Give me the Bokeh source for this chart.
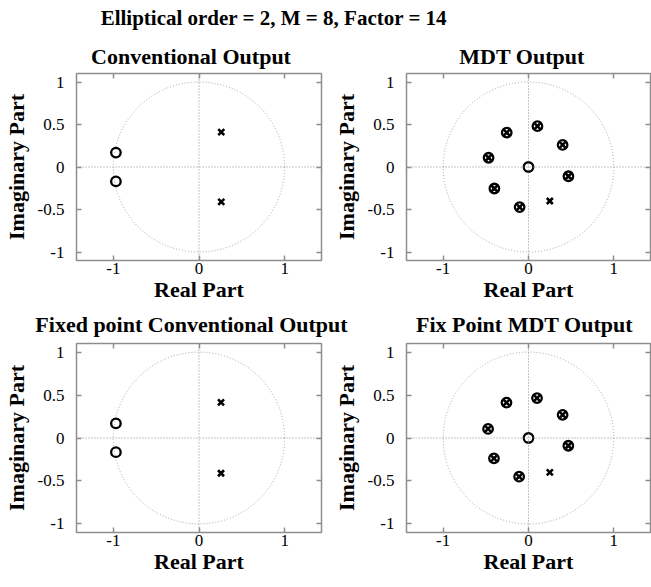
from bokeh.plotting import figure
from bokeh.models import Range1d, Span, FixedTicker, LinearAxis, Label
from bokeh.layouts import column, row
from bokeh.embed import file_html
from bokeh.resources import INLINE

# ---- pole / zero locations (real, imaginary) ----
conv_zero_re = [-0.97, -0.97]
conv_zero_im = [0.17, -0.17]
conv_pole_re = [0.26, 0.26]
conv_pole_im = [0.41, -0.41]

mdt_zero_re = [0.0, 0.105, 0.40, 0.468, -0.104, -0.40, -0.468, -0.255]
mdt_zero_im = [0.0, 0.48, 0.26, -0.109, -0.472, -0.253, 0.109, 0.405]
mdt_pole_re = [0.25, 0.105, 0.40, 0.468, -0.104, -0.40, -0.468, -0.255]
mdt_pole_im = [-0.40, 0.48, 0.26, -0.109, -0.472, -0.253, 0.109, 0.405]

fix_conv_zero_re = [-0.97, -0.97]
fix_conv_zero_im = [0.17, -0.165]
fix_conv_pole_re = [0.257, 0.257]
fix_conv_pole_im = [0.415, -0.41]

fix_mdt_zero_re = [0.0, 0.10, 0.40, 0.467, -0.11, -0.405, -0.474, -0.258]
fix_mdt_zero_im = [0.0, 0.465, 0.27, -0.09, -0.45, -0.237, 0.106, 0.412]
fix_mdt_pole_re = [0.25, 0.10, 0.40, 0.467, -0.11, -0.405, -0.474, -0.258]
fix_mdt_pole_im = [-0.40, 0.465, 0.27, -0.09, -0.45, -0.237, 0.106, 0.412]

x_ticks = [-1, 0, 1]
y_ticks = [-1, -0.5, 0, 0.5, 1]
tick_text = {-1: "-1", -0.5: "-0.5", 0: "0", 0.5: "0.5", 1: "1"}

main_title = "Elliptical order = 2, M = 8, Factor = 14"
panel_titles = ["Conventional Output", "MDT Output",
                "Fixed point Conventional Output", "Fix Point MDT Output"]

SERIF = "Liberation Serif"
BOX = "#8e8e8e"
AXIS_REF = "#8a8a8a"
CIRCLE_REF = "#a6a6a6"


def header(width, height, items):
    p = figure(width=width, height=height, x_range=Range1d(0, width),
               y_range=Range1d(height, 0), output_backend="svg",
               toolbar_location=None, min_border=0, outline_line_color=None,
               x_axis_location=None, y_axis_location=None)
    p.grid.visible = False
    for text, cx, base, size in items:
        p.add_layout(Label(x=cx, y=base, text=text, text_align="center",
                           text_baseline="alphabetic", text_font=SERIF,
                           text_font_style="bold", text_font_size=size,
                           text_color="black"))
    return p


def pz_panel(width, height, left, right, top, bottom, zr, zi, pr, pi):
    p = figure(width=width, height=height, x_range=Range1d(-1.43, 1.43),
               y_range=Range1d(-1.1, 1.1), output_backend="svg",
               toolbar_location=None, min_border_left=left,
               min_border_right=right, min_border_top=top,
               min_border_bottom=bottom, outline_line_color=BOX,
               outline_line_width=1.5)
    p.grid.visible = False

    # unit circle and the real / imaginary axes
    p.ellipse(x=[0], y=[0], width=[2], height=[2], fill_color=None,
              line_color=CIRCLE_REF, line_dash="1 2", line_width=1)
    for dim in ("width", "height"):
        p.add_layout(Span(location=0, dimension=dim, line_color=AXIS_REF,
                          line_dash="1 2", line_width=1))

    p.scatter(zr, zi, marker="circle", size=9.5, fill_color=None,
              line_color="black", line_width=2.3)
    p.scatter(pr, pi, marker="x", size=8.5, line_color="black",
              line_width=2.6)

    for ax, ticks, name in ((p.xaxis[0], x_ticks, "Real Part"),
                            (p.yaxis[0], y_ticks, "Imaginary Part")):
        ax.ticker = FixedTicker(ticks=ticks)
        ax.major_label_overrides = {t: tick_text[t] for t in ticks}
        ax.axis_line_color = None
        ax.major_tick_in = 5
        ax.major_tick_out = 0
        ax.major_tick_line_color = BOX
        ax.major_tick_line_width = 1.5
        ax.minor_tick_line_color = None
        ax.major_label_text_font = SERIF
        ax.major_label_text_font_size = "17px"
        ax.major_label_text_color = "black"
        ax.axis_label = name
        ax.axis_label_text_font = SERIF
        ax.axis_label_text_font_style = "bold"
        ax.axis_label_text_font_size = "22px"
        ax.axis_label_text_color = "black"
    p.xaxis[0].major_label_standoff = 2
    p.xaxis[0].axis_label_standoff = 0
    p.yaxis[0].major_label_standoff = 12
    p.yaxis[0].axis_label_standoff = 6

    # inward ticks on the opposite sides of the box
    for loc, ticks in (("right", y_ticks), ("above", x_ticks)):
        ax = LinearAxis(ticker=FixedTicker(ticks=ticks),
                        major_label_overrides={t: "" for t in ticks},
                        major_label_standoff=0, major_tick_in=5,
                        major_tick_out=0, major_tick_line_color=BOX,
                        major_tick_line_width=1.5,
                        minor_tick_line_color=None, axis_line_color=None)
        p.add_layout(ax, loc)
    return p


top_head = header(651, 70, [
    (main_title, 273.5, 17.5, "21px"),
    (panel_titles[0], 190.5, 56, "22px"),
    (panel_titles[1], 521.5, 56, "22px"),
])
mid_head = header(651, 35, [
    (panel_titles[2], 191, 19, "22px"),
    (panel_titles[3], 524, 19, "22px"),
])

p1 = pz_panel(330, 235, 71, 9, 3, 45, conv_zero_re, conv_zero_im,
              conv_pole_re, conv_pole_im)
p2 = pz_panel(321, 235, 71, 1, 3, 45, mdt_zero_re, mdt_zero_im,
              mdt_pole_re, mdt_pole_im)
p3 = pz_panel(330, 247, 71, 9, 3, 55, fix_conv_zero_re, fix_conv_zero_im,
              fix_conv_pole_re, fix_conv_pole_im)
p4 = pz_panel(321, 247, 71, 1, 3, 55, fix_mdt_zero_re, fix_mdt_zero_im,
              fix_mdt_pole_re, fix_mdt_pole_im)

layout = column(top_head, row(p1, p2), mid_head, row(p3, p4))

with open("out.html", "w") as f:
    f.write(file_html(layout, INLINE))
